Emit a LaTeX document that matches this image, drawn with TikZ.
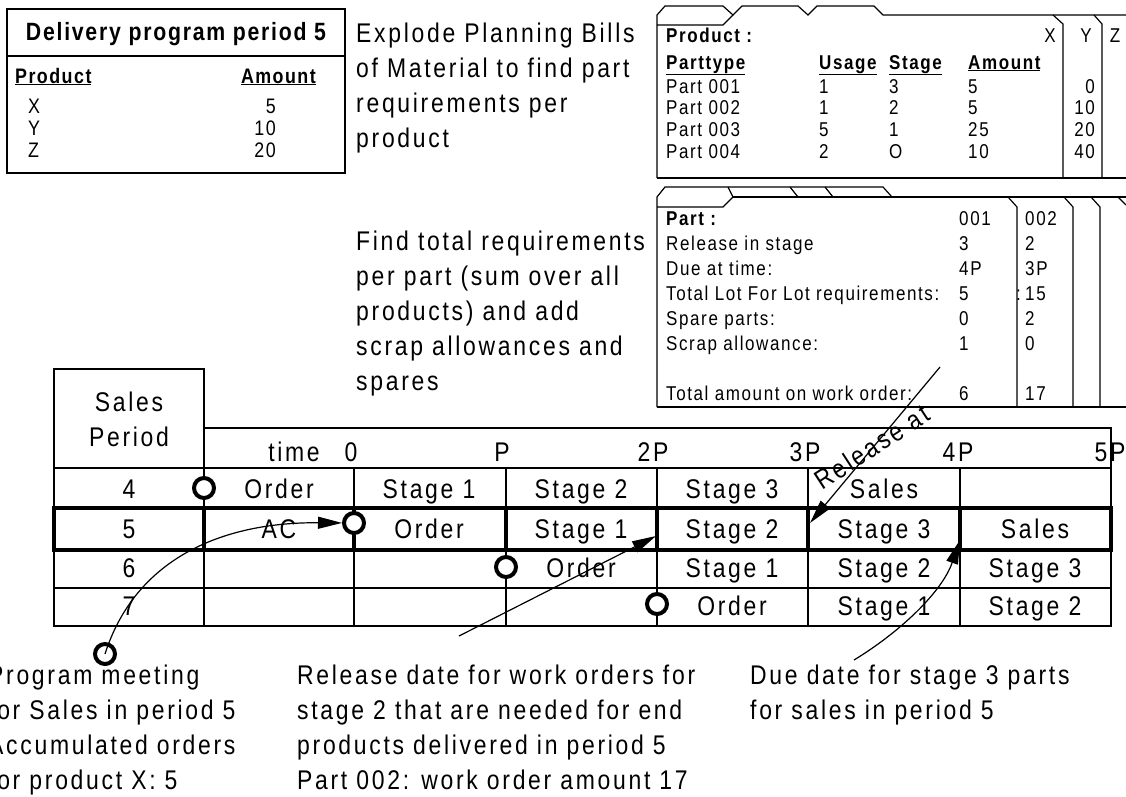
\documentclass[tikz,border=0pt]{standalone}
\usepackage{fontspec}
\setmainfont{Liberation Sans}
\newfontfamily\fbig{Liberation Sans}[FakeStretch=0.85,LetterSpace=10]
\newfontfamily\fcrd{Liberation Sans}[FakeStretch=0.85,LetterSpace=8]
\newfontfamily\fdel{Liberation Sans}[FakeStretch=0.85,LetterSpace=7]
\usetikzlibrary{arrows.meta}
\begin{document}
\begin{tikzpicture}[x=1pt,y=-1pt,
  big/.style={inner sep=0pt,anchor=base west,font=\fbig\fontsize{27}{35}\selectfont},
  bigc/.style={big,anchor=base},
  crd/.style={inner sep=0pt,anchor=base west,font=\fcrd\fontsize{20}{22}\selectfont},
  crdb/.style={crd,font=\fcrd\bfseries\fontsize{20}{22}\selectfont},
  del/.style={inner sep=0pt,anchor=base west,font=\fdel\fontsize{21}{22}\selectfont},
  delb/.style={del,font=\fdel\bfseries\fontsize{21}{22}\selectfont},
  grid/.style={line width=1.2pt},
  bold5/.style={line width=4pt},
  edge/.style={line width=1.2pt,line join=miter},
  ring/.style={circle,draw,line width=4pt,fill=white,minimum size=20pt,inner sep=0pt},
  arr/.style={line width=1.2pt,-{Triangle[length=24pt,width=12pt]}}
]
\clip (0,0) rectangle (1126,796);
\fill[white] (0,0) rectangle (1126,796);

% ---------- Delivery program box
\draw[edge] (7,9) rectangle (345,173);
\draw[edge] (7,56) -- (345,56);
\node[delb,anchor=base,font=\fdel\bfseries\fontsize{25}{28}\selectfont] (dtitle) at (176,40) {Delivery program period 5};
\node[delb] (dprod) at (15,83) {\underline{Product}};
\node[delb,anchor=base east] (damt) at (316,83) {\underline{Amount}};
\foreach \p/\a [count=\i] in {X/5,Y/10,Z/20}{
  \node[del] (dp\i) at (28,{113+22*(\i-1)}) {\p};
  \node[del,anchor=base east] (da\i) at (276,{113+22*(\i-1)}) {\a};
}

% ---------- explanatory paragraphs
\foreach \t [count=\i] in {{Explode Planning Bills},{of Material to find part},{requirements per},{product}}
  \node[big] (pa\i) at (356,{42+35*(\i-1)}) {\t};
\foreach \t [count=\i] in {{Find total requirements},{per part (sum over all},{products) and add},{scrap allowances and},{spares}}
  \node[big] (pb\i) at (356,{250+35*(\i-1)}) {\t};

% ---------- product card
\draw[edge] (657,178) -- (657,15) -- (665,6) -- (723,6) -- (733,15) -- (723,25) -- (657,25);
\draw[edge] (733,15) -- (742,6) -- (798,6) -- (808,15) -- (817,6) -- (874,6) -- (883,15) -- (1126,15);
\draw[edge] (1053,15) -- (1063,24) -- (1063,178);
\draw[edge] (1094,15) -- (1102,24) -- (1102,178);
\draw[edge] (657,178) -- (1126,178);
\node[crdb] (pc0) at (666,42) {Product :};
\node[crd,anchor=base] (pcx) at (1050,42) {X};
\node[crd,anchor=base] (pcy) at (1086,42) {Y};
\node[crd,anchor=base] (pcz) at (1115,42) {Z};
\node[crdb] (ph1) at (666,69) {\underline{Parttype}};
\node[crdb] (ph2) at (819,69) {\underline{Usage}};
\node[crdb] (ph3) at (889,69) {\underline{Stage}};
\node[crdb] (ph4) at (968,69) {\underline{Amount}};
\foreach \n/\u/\s/\m/\y [count=\i] in {001/1/3/5/0,002/1/2/5/10,003/5/1/25/20,004/2/O/10/40}{
  \node[crd] (pr\i a) at (666,{93+21.7*(\i-1)}) {Part \n};
  \node[crd] (pr\i b) at (819,{93+21.7*(\i-1)}) {\u};
  \node[crd] (pr\i c) at (889,{93+21.7*(\i-1)}) {\s};
  \node[crd] (pr\i d) at (968,{93+21.7*(\i-1)}) {\m};
  \node[crd,anchor=base east] (pr\i e) at (1095,{93+21.7*(\i-1)}) {\y};
}

% ---------- part card
\draw[edge] (657,407) -- (657,197) -- (665,187) -- (883,187) -- (892,197);
\draw[edge] (728,187) -- (733,197) -- (723,207) -- (657,207);
\draw[edge] (790,187) -- (798,197);
\draw[edge] (825,187) -- (833,197);
\draw[edge] (733,197) -- (1126,197);
\draw[edge] (1008,197) -- (1017,207) -- (1017,407);
\draw[edge] (1064,197) -- (1073,207) -- (1073,407);
\draw[edge] (1091,197) -- (1100,207) -- (1100,407);
\draw[edge] (1118,197) -- (1126,205);
\draw[edge] (657,407) -- (1126,407);
\node[crdb] (q0) at (666,225) {Part :};
\node[crd] (q0a) at (959,225) {001};
\node[crd] (q0b) at (1025,225) {002};
\foreach \l/\a/\b [count=\i] in {{Release in stage}/3/2,{Due at time:}/4P/3P,{Total Lot For Lot requirements:}/5/15,{Spare parts:}/0/2,{Scrap allowance:}/1/0}{
  \node[crd] (q\i) at (666,{250+25*(\i-1)}) {\l};
  \node[crd] (q\i a) at (959,{250+25*(\i-1)}) {\a};
  \node[crd] (q\i b) at (1025,{250+25*(\i-1)}) {\b};
}
\node[crd] (qcolon) at (1016,300) {:};
\node[crd] (q7) at (666,400) {Total amount on work order:};
\node[crd] (q7a) at (959,400) {6};
\node[crd] (q7b) at (1025,400) {17};

% ---------- table grid
\draw[grid] (54,369) rectangle (204,468);
\draw[grid] (204,428) -- (1111,428) -- (1111,626) -- (54,626) -- (54,468);
\foreach \y in {468,550,588} \draw[grid] (54,\y) -- (1111,\y);
\foreach \x in {204,354,506,657,808,960} \draw[grid] (\x,468) -- (\x,626);
\draw[bold5] (54,508) rectangle (1111,550);
\foreach \x in {204,354,506,657,808,960} \draw[bold5] (\x,508) -- (\x,550);

% header texts
\node[bigc] (hs1) at (129,411) {Sales};
\node[bigc] (hs2) at (129,446) {Period};
\node[bigc] (t0) at (294,461) {time};
\foreach \c/\t [count=\i] in {351/0,502/P,653/2P,805/3P,958/4P,1110/5P}
  \node[bigc] (tt\i) at (\c,461) {\t};

% rows
\foreach \c/\t [count=\i] in {129/4,279/Order,429/Stage 1,581/Stage 2,732/Stage 3,884/Sales}
  \node[bigc] (ra\i) at (\c,498) {\t};
\foreach \c/\t [count=\i] in {129/5,279/AC,429/Order,581/Stage 1,732/Stage 2,884/Stage 3,1035/Sales}
  \node[bigc] (rb\i) at (\c,538) {\t};
\foreach \c/\t [count=\i] in {129/6,581/Order,732/Stage 1,884/Stage 2,1035/Stage 3}
  \node[bigc] (rc\i) at (\c,577) {\t};
\foreach \c/\t [count=\i] in {129/7,732/Order,884/Stage 1,1035/Stage 2}
  \node[bigc] (rd\i) at (\c,615) {\t};

% order circles
\node[ring] (c4) at (204,488) {};
\node[ring] (c5) at (354,523) {};
\node[ring] (c6) at (506,567) {};
\node[ring] (c7) at (657,604) {};
\node[ring] (cb) at (105,654) {};

% bottom texts
\foreach \t [count=\i] in {{Program meeting},{for Sales in period 5},{Accumulated orders},{for product X: 5}}
  \node[big] (ba\i) at (-12,{684+35*(\i-1)}) {\t};
\foreach \t [count=\i] in {{Release date for work orders for},{stage 2 that are needed for end},{products delivered in period 5},{Part 002: work order amount 17}}
  \node[big] (bb\i) at (297,{684+35*(\i-1)}) {\t};
\foreach \t [count=\i] in {{Due date for stage 3 parts},{for sales in period 5}}
  \node[big] (bc\i) at (750,{684+35*(\i-1)}) {\t};

% release at
\node[bigc,anchor=center,rotate=33] (relat) at (872,447) {Release at};

% arrows
\coordinate (ra) at (940,367);
\coordinate (rb) at (810,523);
\coordinate (da) at (459,636);
\coordinate (db) at (656,536);
\coordinate (ea) at (854,660);
\coordinate (eb) at (960,540);
\draw[arr] (ra) -- (rb);
\draw[arr] (da) -- (db);
\draw[arr] (ea) .. controls (900,632) and (942,592) .. (eb);
\draw[arr] (cb.center) .. controls (135,560) and (220,522) .. (c5);
\end{tikzpicture}
\end{document}
